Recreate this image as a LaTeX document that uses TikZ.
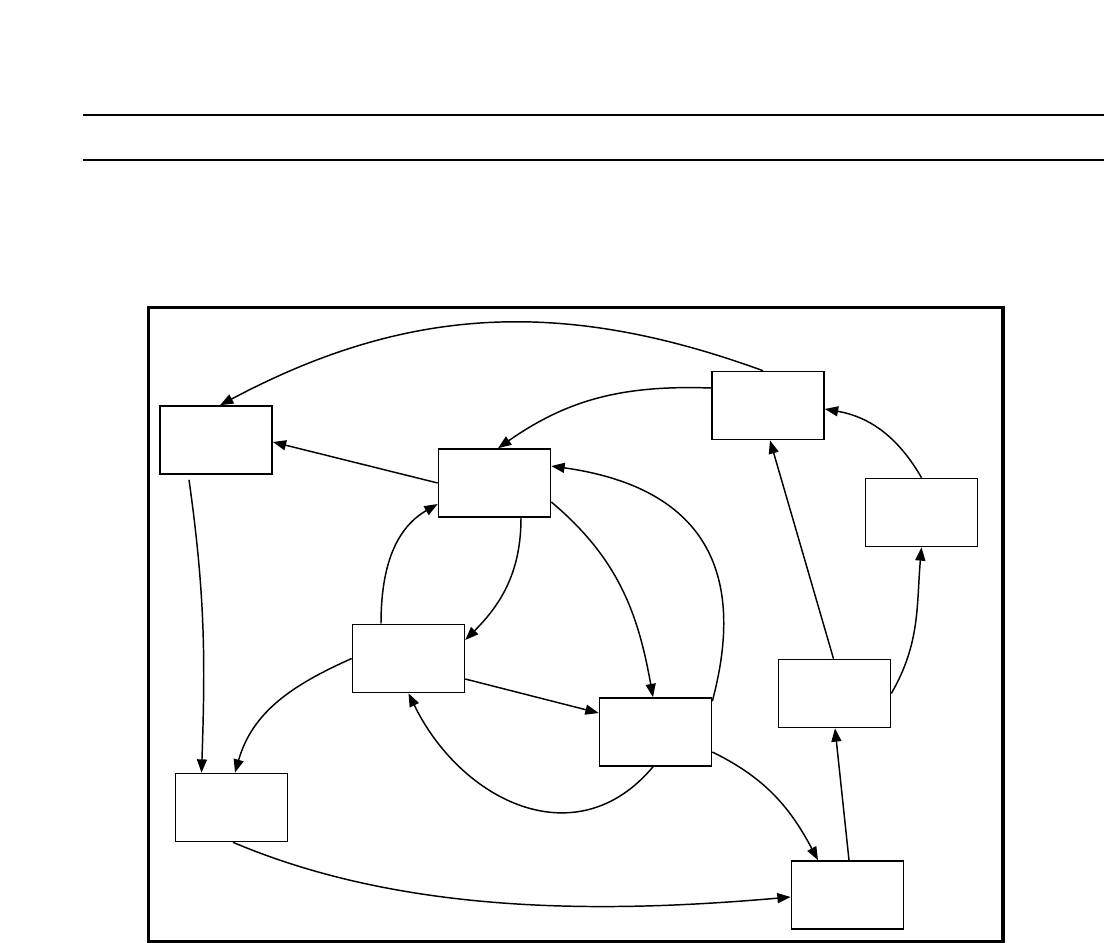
\documentclass[tikz,border=0pt]{standalone}
\usetikzlibrary{arrows.meta}
\begin{document}
\begin{tikzpicture}[x=0.75pt,y=-0.75pt,
  box/.style={draw,line width=1.2pt,minimum width=84pt,minimum height=51pt,inner sep=0pt,fill=white},
  edge/.style={line width=1.1pt,-{Triangle[length=10pt,width=7.5pt]}},
  rule/.style={line width=1.5pt},
  frame/.style={line width=2.3pt}]
\path[use as bounding box] (0,0) rectangle (1104,943);
\draw[rule] (83,115) -- (1104,115);
\draw[rule] (83,160) -- (1104,160);
\draw[frame] (148.5,307.5) rectangle (1003,941.5);

\node[box] (A) at (216,440) {};
\node[box] (B) at (494.5,483) {};
\node[box] (C) at (768,405.5) {};
\node[box] (D) at (921.5,512.5) {};
\node[box] (E) at (834.5,693.5) {};
\node[box] (F) at (655.5,732) {};
\node[box] (G) at (847.5,895) {};
\node[box] (H) at (408.5,658.5) {};
\node[box] (I) at (231.5,807.5) {};

\draw[edge] ([shift={(-5,0)}]C.north) to[out=160,in=28] ([shift={(4,0)}]A.north);
\draw[edge] ([shift={(0,-17.5)}]C.west) to[out=178,in=35] ([shift={(3.5,0)}]B.north);
\draw[edge] (B.west) -- ([shift={(0,2)}]A.east);
\draw[edge] (D.north) to[out=120,in=-10] ([shift={(0,3.5)}]C.east);
\draw[edge] ([shift={(-1,0)}]E.north) -- ([shift={(2,0)}]C.south);
\draw[edge] (E.east) to[out=60,in=265] (D.south);
\draw[edge] ([shift={(0,4)}]F.north east) to[out=75,in=-8,looseness=1.3] ([shift={(0,-17)}]B.east);
\draw[edge] ([shift={(0,19)}]B.east) to[out=-40,in=100] ([shift={(-2.5,0)}]F.north);
\draw[edge] ([shift={(26.5,0)}]B.south) to[out=-90,in=45] ([shift={(0,-18.5)}]H.east);
\draw[edge] ([shift={(-27.5,0)}]H.north) to[out=90,in=210] ([shift={(0,21)}]B.west);
\draw[edge] ([shift={(0,20.5)}]H.east) -- ([shift={(0,-19)}]F.west);
\draw[edge] ([shift={(-2.5,0)}]F.south) to[out=230,in=-64,looseness=1.2] (H.south);
\draw[edge] (H.west) to[out=204,in=74] ([shift={(3.5,0)}]I.north);
\draw[edge] ([shift={(-27,5)}]A.south) to[out=-82,in=88] ([shift={(-30,0)}]I.north);
\draw[edge] ([shift={(1.5,0)}]I.south) to[out=-23,in=185,looseness=0.85] ([shift={(0,2)}]G.west);
\draw[edge] ([shift={(0,20)}]F.east) to[out=-26,in=118] ([shift={(-29.5,0)}]G.north);
\draw[edge] ([shift={(1.5,0)}]G.north) -- ([shift={(0.5,0)}]E.south);
\end{tikzpicture}
\end{document}
